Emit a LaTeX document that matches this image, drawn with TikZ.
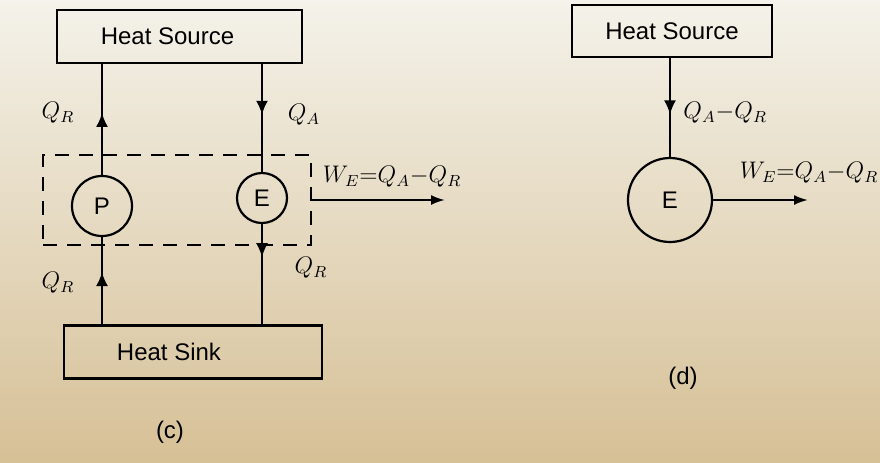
\documentclass[tikz,border=0pt]{standalone}
\usepackage{amsmath}
\usepackage{fontspec}
\setmainfont{Liberation Sans}
\usetikzlibrary{arrows.meta,decorations.markings}

\definecolor{papertop}{RGB}{244,242,234}
\definecolor{paperbot}{RGB}{214,192,150}

\begin{document}
\begin{tikzpicture}[x=0.5pt,y=-0.5pt,
  box/.style={draw,line width=1.1pt,inner sep=0pt,font=\large},
  machine/.style={draw,circle,line width=1.1pt,inner sep=0pt,font=\large},
  flow/.style={line width=1.1pt},
  midarrow/.style={postaction={decorate},decoration={markings,
    mark=at position #1 with {\arrow{Latex[length=7pt,width=6pt]}}}},
  lbl/.style={font=\large,inner sep=1pt}]

% Paper
\useasboundingbox (0,0) rectangle (880,462);
\shade[top color=papertop,bottom color=paperbot] (0,0) rectangle (880,462);

% (c) heat pump + engine
\node[box,minimum width=122.5pt,minimum height=26.5pt] (srcC) at (179.5,36.5) {Heat Source\hspace*{12pt}};
\node[box,minimum width=129pt,minimum height=26.5pt] (sinkC) at (193,352) {Heat Sink\hspace*{24pt}};
\node[machine,minimum size=30pt] (P) at (102,206) {P};
\node[machine,minimum size=25pt] (E) at (262,198) {E};
\node[draw,dashed,dash pattern=on 7pt off 5pt,line width=1pt,inner sep=0pt,
      minimum width=134pt,minimum height=45pt] (cv) at (177,200) {};

% Heat flows
\draw[flow,midarrow=0.56] (P.north) -- (P.north |- srcC.south);
\draw[flow,midarrow=0.47] (srcC.south -| E.north) -- (E.north);
\draw[flow,midarrow=0.6] (sinkC.north -| P.south) -- (P.south);
\draw[flow,midarrow=0.33] (E.south) -- (E.south |- sinkC.north);

% Work out
\coordinate (wC) at (445,200);
\draw[flow,-{Latex[length=7pt,width=5pt]}] (cv.east) -- (wC);

% Labels
\node[lbl] (qr1) at (58,113) {$Q_R$};
\node[lbl] (qa1) at (304,115) {$Q_A$};
\node[lbl] (qr2) at (58,283) {$Q_R$};
\node[lbl] (qr3) at (311,268) {$Q_R$};
\node[lbl] (wc) at (392,177) {$W_E{=}Q_A{-}Q_R$};
\node[lbl] (capc) at (170,432) {(c)};

% (d) equivalent engine
\node[box,minimum width=100pt,minimum height=26pt] (srcD) at (672,31) {Heat Source};
\node[machine,minimum size=42pt] (E2) at (670,200) {E};
\draw[flow,midarrow=0.57] (srcD.south -| E2.north) -- (E2.north);
\coordinate (wD) at (808,200);
\draw[flow,-{Latex[length=7pt,width=5pt]}] (E2.east) -- (wD);

\node[lbl,anchor=west] (qad) at (681,113) {$Q_A{-}Q_R$};
\node[lbl] (wd) at (809,173) {$W_E{=}Q_A{-}Q_R$};
\node[lbl] (capd) at (683,378) {(d)};
\end{tikzpicture}
\end{document}
